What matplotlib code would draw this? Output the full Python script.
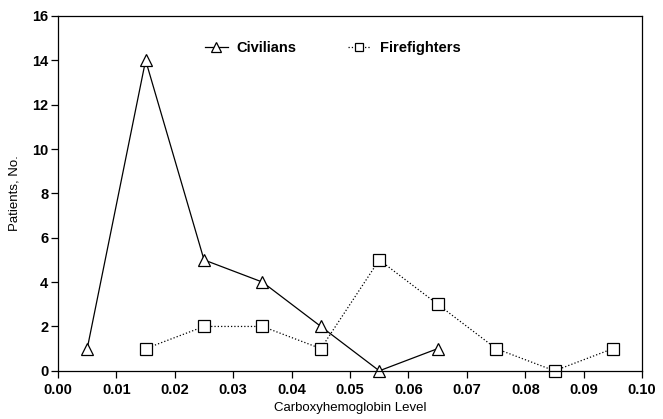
import matplotlib
matplotlib.use("Agg")
import matplotlib.pyplot as plt
from matplotlib.ticker import MultipleLocator, FormatStrFormatter

civ_x = [0.005, 0.015, 0.025, 0.035, 0.045, 0.055, 0.065]
civ_y = [1, 14, 5, 4, 2, 0, 1]
fire_x = [0.015, 0.025, 0.035, 0.045, 0.055, 0.065, 0.075, 0.085, 0.095]
fire_y = [1, 2, 2, 1, 5, 3, 1, 0, 1]

plt.rcParams['font.family'] = ['Liberation Sans Narrow', 'Liberation Sans', 'DejaVu Sans']
plt.rcParams['font.weight'] = 'bold'

fig = plt.figure(figsize=(6.63, 4.19), dpi=100)
ax = fig.add_axes([0.0875, 0.115, 0.881, 0.847])

ax.plot(civ_x, civ_y, color='black', lw=0.9, marker='^', ms=9,
        mfc='white', mec='black', mew=0.9, label='Civilians', clip_on=False)
ax.plot(fire_x, fire_y, color='black', lw=0.9, ls=':', marker='s', ms=8,
        mfc='white', mec='black', mew=0.9, label='Firefighters', clip_on=False)

ax.set_xlim(0, 0.10)
ax.set_ylim(0, 16)
ax.xaxis.set_major_locator(MultipleLocator(0.01))
ax.xaxis.set_major_formatter(FormatStrFormatter('%.2f'))
ax.yaxis.set_major_locator(MultipleLocator(2))
ax.tick_params(direction='out', length=5, width=0.9, labelsize=10.5)
ax.tick_params(axis='y', pad=2)

ax.set_xlabel('Carboxyhemoglobin Level', fontsize=9.5, fontweight='normal', labelpad=4)
ax.set_ylabel('Patients, No.', fontsize=9.5, fontweight='normal', labelpad=8)

for s in ax.spines.values():
    s.set_linewidth(0.9)

ax.legend(loc='center', bbox_to_anchor=(0.47, 0.91), ncol=2, frameon=False,
          handlelength=1.6, columnspacing=3.5, handletextpad=0.6, markerscale=0.8,
          prop={'weight': 'bold', 'size': 10.5})

fig.savefig('out.png', dpi=100)
